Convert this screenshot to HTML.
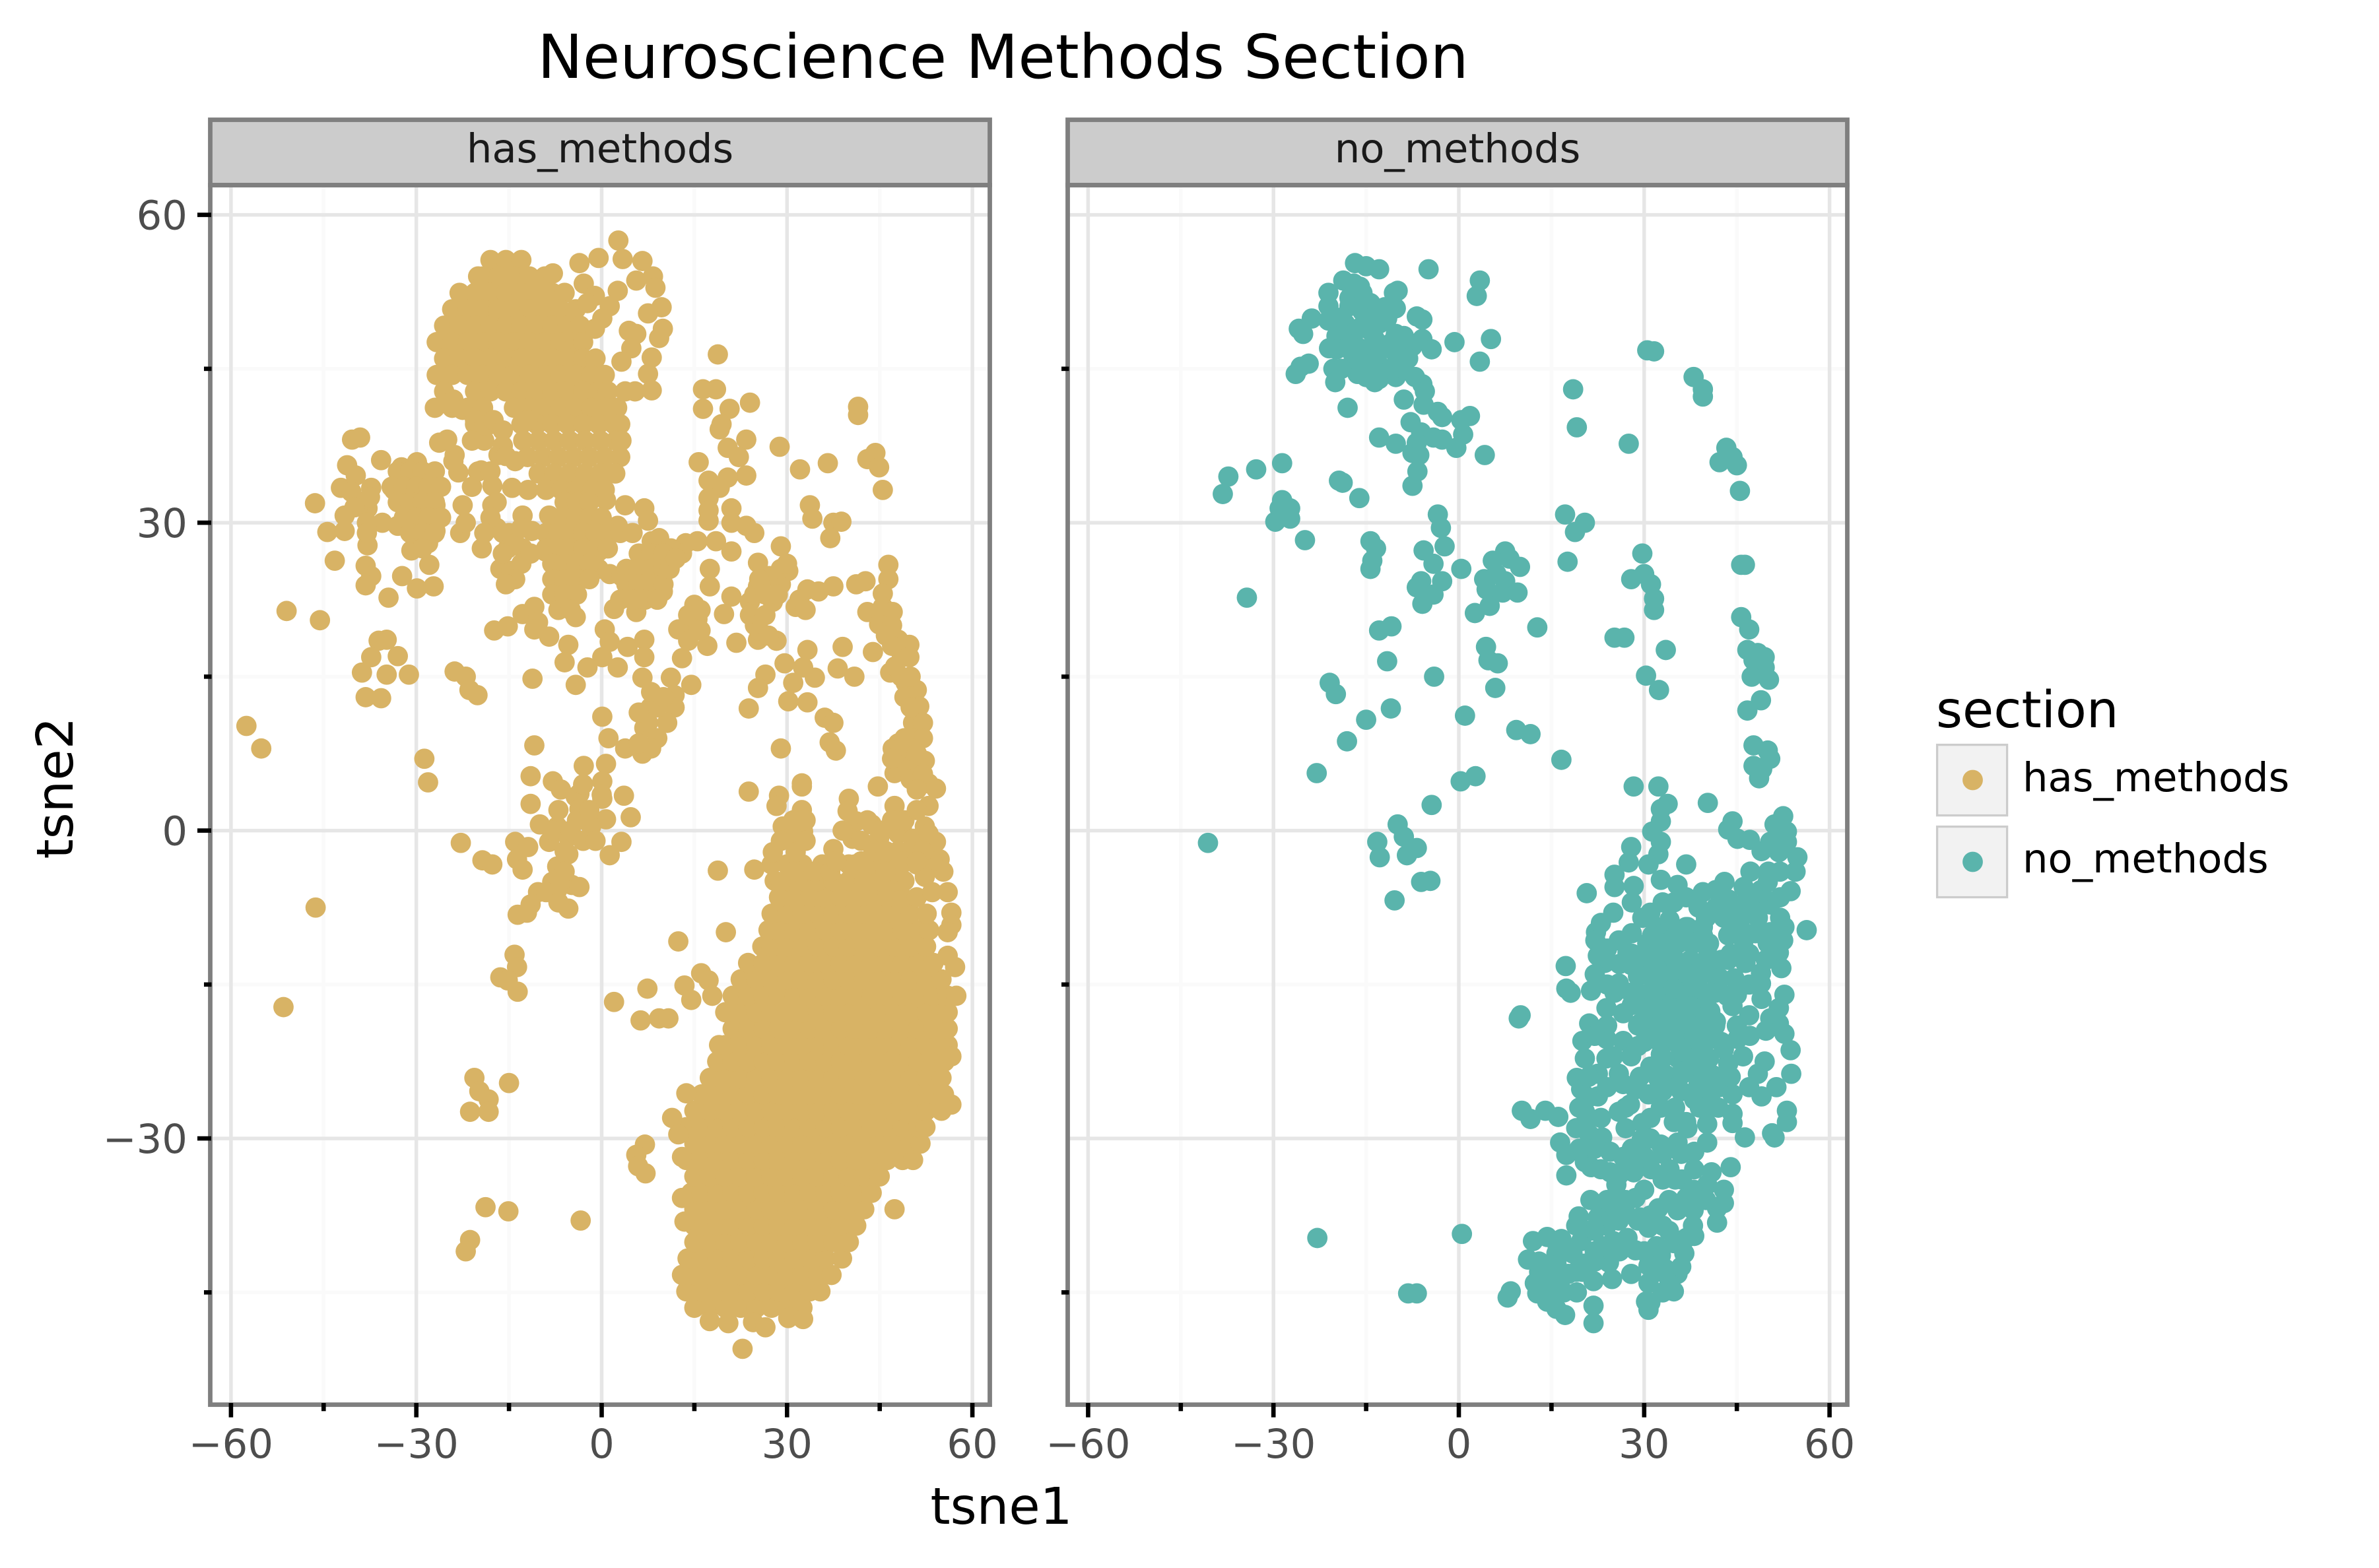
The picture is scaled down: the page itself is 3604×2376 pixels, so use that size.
<!DOCTYPE html>
<html><head><meta charset="utf-8"><title>Neuroscience Methods Section</title>
<style>html,body{margin:0;padding:0;background:#fff}svg{display:block}text{font-family:"DejaVu Sans","Liberation Sans",sans-serif}</style>
</head><body>
<svg id="chart" xmlns="http://www.w3.org/2000/svg" width="3604" height="2376" viewBox="0 0 3604 2376">
<rect width="3604" height="2376" fill="#fff"/>
<text x="1519.5" y="118" font-size="91.7" text-anchor="middle" fill="#000">Neuroscience Methods Section</text>
<g id="layer-grid"></g>
<g id="layer-points"></g>
<g id="layer-frame">
<rect x="318.5" y="181.5" width="1181" height="99" fill="#ccc" stroke="#7f7f7f" stroke-width="6.8"/>
<rect x="1617.5" y="181.5" width="1181" height="99" fill="#ccc" stroke="#7f7f7f" stroke-width="6.8"/>
<rect x="318.5" y="280.5" width="1181" height="1848" fill="none" stroke="#7f7f7f" stroke-width="6.8"/>
<rect x="1617.5" y="280.5" width="1181" height="1848" fill="none" stroke="#7f7f7f" stroke-width="6.8"/>
<text x="909" y="246" font-size="60.8" text-anchor="middle" fill="#1a1a1a">has_methods</text>
<text x="2208" y="246" font-size="60.8" text-anchor="middle" fill="#1a1a1a">no_methods</text>
</g>
<g id="layer-axes"></g>
<text x="1517" y="2309" font-size="76.8" text-anchor="middle" fill="#000">tsne1</text>
<text transform="translate(110,1194) rotate(-90)" font-size="76.8" text-anchor="middle" fill="#000">tsne2</text>
<g>
<text x="2933" y="1102" font-size="76.8" fill="#000">section</text>
<rect x="2934.6" y="1128.6" width="106" height="107" fill="#f2f2f2" stroke="#ccc" stroke-width="3.3"/>
<circle cx="2988.5" cy="1182" r="15.4" fill="#d8b365"/>
<text x="3064" y="1199" font-size="60.8" fill="#000">has_methods</text>
<rect x="2934.6" y="1252.6" width="106" height="107" fill="#f2f2f2" stroke="#ccc" stroke-width="3.3"/>
<circle cx="2988.5" cy="1306" r="15.4" fill="#5ab4ac"/>
<text x="3064" y="1322" font-size="60.8" fill="#000">no_methods</text>
</g>
</svg>
<script>
const majorTicks = [-60, -30, 0, 30, 60];
const minorTicksX = [-45, -15, 15, 45];
const majorTicksY = [-30, 0, 30, 60];
const minorTicksY = [-45, -15, 15, 45];
const tickLabelsX = ["\u221260", "\u221230", "0", "30", "60"];
const tickLabelsY = ["\u221230", "0", "30", "60"];

// Dense clouds: each row is [tsne2, tsne1, tsne1, ...]
const hasMethodsLowerCloud = [
[-46.5,15,17.5,20,22.5,25,27.5,30,32.5],
[-44.9,13.7,16.2,18.7,21.2,23.7,26.2,28.7,31.2,33.7,35.4],
[-43.3,13,15,17.5,20,22.5,25,27.5,30,32.5,35,37.2],
[-41.7,13.9,16.2,18.7,21.2,23.7,26.2,28.7,31.2,33.7,36.2,38.9],
[-40.1,15,17.5,20,22.5,25,27.5,30,32.5,35,37.5,40],
[-38.5,15,16.2,18.7,21.2,23.7,26.2,28.7,31.2,33.7,36.2,38.7,41.2],
[-36.9,15,17.5,20,22.5,25,27.5,30,32.5,35,37.5,40,42.5],
[-35.3,14.5,16.2,18.7,21.2,23.7,26.2,28.7,31.2,33.7,36.2,38.7,41.2,43.7],
[-33.7,15,17.5,20,22.5,25,27.5,30,32.5,35,37.5,40,42.5,45],
[-32.1,13.7,16.2,18.7,21.2,23.7,26.2,28.7,31.2,33.7,36.2,38.7,41.2,43.7,46.2,48.7,50.4],
[-30.5,15,17.5,20,22.5,25,27.5,30,32.5,35,37.5,40,42.5,45,47.5,50,51.6],
[-28.9,13.7,16.2,18.7,21.2,23.7,26.2,28.7,31.2,33.7,36.2,38.7,41.2,43.7,46.2,48.7,51.2,52.4],
[-27.3,15,17.5,20,22.5,25,27.5,30,32.5,35,37.5,40,42.5,45,47.5,50,52.5,55],
[-25.7,16.2,18.7,21.2,23.7,26.2,28.7,31.2,33.7,36.2,38.7,41.2,43.7,46.2,48.7,51.2,53.7,55.4],
[-24.1,17.5,20,22.5,25,27.5,30,32.5,35,37.5,40,42.5,45,47.5,50,52.5,55],
[-22.5,18.7,21.2,23.7,26.2,28.7,31.2,33.7,36.2,38.7,41.2,43.7,46.2,48.7,51.2,53.7,55.5],
[-20.9,19,20,22.5,25,27.5,30,32.5,35,37.5,40,42.5,45,47.5,50,52.5,55,56],
[-19.3,21.2,23.7,26.2,28.7,31.2,33.7,36.2,38.7,41.2,43.7,46.2,48.7,51.2,53.7,56],
[-17.7,20,22.5,25,27.5,30,32.5,35,37.5,40,42.5,45,47.5,50,52.5,55,56],
[-16.1,21.2,23.7,26.2,28.7,31.2,33.7,36.2,38.7,41.2,43.7,46.2,48.7,51.2,53.7,56],
[-14.5,22.5,25,27.5,30,32.5,35,37.5,40,42.5,45,47.5,50,52.5,55],
[-12.9,23.7,26.2,28.7,31.2,33.7,36.2,38.7,41.2,43.7,46.2,48.7,51.2,53.7],
[-11.3,26,27.5,30,32.5,35,37.5,40,42.5,45,47.5,50,52.5],
[-9.7,27,28.7,31.2,33.7,36.2,38.7,41.2,43.7,46.2,48.7,51.2,53],
[-8.1,27.5,30,32.5,35,37.5,40,42.5,45,47.5,50,52.6],
[-6.5,28.7,31.2,33.7,36.2,38.7,41.2,43.7,46.2,48.7,51],
[-4.9,28,30,32.5,35,37.5,40,42.5,45,47.5,49],
[-3.3,27.5,30,32.5,41,43.5,46,48.5,51]
];
const hasMethodsUpperCloud = [
[55.6,-18,-15.5,-13],
[54,-20,-19.2,-16.7,-14.2,-11.7,-9.2],
[52.4,-23,-20.5,-18,-15.5,-13,-10.5,-8,-6],
[50.8,-24.2,-21.7,-19.2,-16.7,-14.2,-11.7,-9.2,-6.7,-4.2],
[49.2,-25.5,-23,-20.5,-18,-15.5,-13,-10.5,-8,-5.5,-3.5],
[47.6,-26.7,-24.2,-21.7,-19.2,-16.7,-14.2,-11.7,-9.2,-6.7,-4.2,-3],
[46,-25.5,-23,-20.5,-18,-15.5,-13,-10.5,-8,-5.5,-3,-1],
[44.4,-26.7,-24.2,-21.7,-19.2,-16.7,-14.2,-11.7,-9.2,-6.7,-4.2,-1.7,.5],
[42.8,-25.5,-20.5,-18,-15.5,-13,-10.5,-8,-5.5,-3,-.5,1],
[41.2,-27,-24.2,-21.7,-19.2,-14.2,-11.7,-9.2,-6.7,-4.2,-1.7,.8,2.5],
[39.6,-20.5,-18,-13,-10.5,-8,-5.5,-3,-.5,2,3],
[38,-21,-19,-12.7,-10.2,-7.7,-5.2,-2.7,-.2,2.3,3.2],
[36.4,-12,-9.5,-7,-4.5,-2,.5,3],
[34.8,-10.2,-7.7,-5.2,-2.7,-.2,2.2],
[33.2,-9,-6.5,-4,-1.5,.5]
];
const noMethodsCore = [
[-9.4,32,34.5,37,39.5],
[-11,30.5,33,35.5,38,40.5],
[-12.6,30,32.5,35,37.5,40,42.5],
[-14.2,29,31.5,34,36.5,39,41.5],
[-15.8,29,31.5,34,36.5,39,41.5],
[-17.4,30,32.5,35,37.5,40],
[-19,29,31.5,34,36.5,39,41.5],
[-20.6,30,32.5,35,37.5,40,42.5],
[-22.2,33,35.5,38,40.5],
[-23.8,33.5,36,38.5,41],
[-25.4,33,36,38.5,41]
];
// Individually read points: [tsne1, tsne2]
const hasMethodsScatter = [
[2.7,57.5],[-.5,55.8],[-3.6,55.3],[3.4,55.7],[6.6,55.5],[-7.9,54.3],[8.3,54],[8.7,52.9],[5.6,53.6],[2.6,52.6],[-2.9,53.3],[-1.1,52.1],[-2.3,51.4],[1.3,51.1],[.1,49.9],[-1.1,48.9],[9.7,51],[7.5,50.4],[9.9,48.9],[9.3,48],[4.4,48.7],[5.6,48.4],[4.8,47],[3.2,45.7],[8.1,46.1],[7.5,44.5],[8.1,42.9],[3.8,42.8],[5.4,42.8],
[18.8,46.4],[16.4,43],[18.5,43],[16.4,41.1],[20.7,41.1],[24,41.7],[19.4,39.6],[19.1,39.1],[23.4,38.1],[20.4,37.3],[22.2,36.4],[15.7,35.9],[28.8,37.4],[32.1,35.2],[36.6,35.8],[41.5,41.3],[41.5,40.5],[43,36.2],[44.3,36.8],[44.9,35.4],[45.5,33.2],
[23.4,34.6],[20.4,34.4],[17.3,34.1],[19.1,33.4],[17.3,32.4],[17.3,31.2],[21,31.4],[17.3,30.2],[21,30],[23.4,29.7],[24.7,29],[33.7,31.7],[34.1,30.4],[37.5,30],[38.8,30.1],[37,28.5],[29,27.7],[25.3,26.1],[21,27.2],[18.5,28.2],[15.5,28.2],[13.6,28],[13,27],[11.2,27.5],
[17.5,25.5],[17.5,23.8],[30.2,25.3],[27.1,24.8],[25.3,23.8],[29,24],[33.3,23.5],[35.1,23.3],[37.5,23.8],[41.2,24],[42.7,24.3],[46.4,25.9],[46.4,24.5],[45.5,23.1],[45.5,21.8],[47.1,21.3],[43,21.3],[44.9,20.1],[31.4,21.8],[27.7,22.3],[24,22.3],[24,21],[21,22.8],[19.8,21.1],[15.5,20.6],[13.6,19.6],[12.4,19.6],[17.1,18],[21.8,18.3],[25.3,18.6],[28.3,18.5],[33.3,17.6],[39,17.9],[43.9,17.4],[48,18.6],[49.8,18.1],[48.6,16.9],[49.8,16.9],[46.7,15.4],[49.2,14.4],[51,13.7],[51.4,12.1],[50.4,10.5],[52,10.5],[48,8.5],[47.1,8],[38.2,15.8],[40.9,15],[34.5,14.9],[29.6,16.3],[32.6,15.9],[26.5,15.2],[31,14.4],[25.3,13.9],[30.2,12.6],[33.3,12.5],[23.8,11.9],[36.1,11],[37.5,10.5],[36.9,8.6],[37.9,7.8],[29,8],[48.6,7],[49.8,6],[52.3,6.8],[47.4,5.6],[52.9,4.6],[44.7,4.3],[32.4,4.3],[23.8,3.8],[28.7,3.4],
[-4.2,32.2],[-5.4,31.2],[-8.5,30.7],[-12.8,30.7],[.7,32.2],[3.8,31.7],[6.9,31.4],[7.5,30.2],[2.6,29.7],[.1,29.5],[-6.6,29.7],[-4.2,29.7],[-7.2,28.2],[-2.9,28.2],[.7,28],[-.5,27.2],[-9.1,27.2],[-5.4,26.7],[-2.9,26.3],[-.5,25.5],[1.3,25],[4.4,25.3],[6.9,26.3],[9.3,28.5],[8.1,28.2],[9.9,26.7],[7.5,25],[9.9,25],[5,24],[7.5,23.8],[9.9,23.3],[3.2,24.8],[-5.4,25.3],[-3.6,24.8],[-7.2,23.8],[-4.8,23.6],[-6.6,22.3],[-4.2,20.8],[2,21.6],[5.6,21.3],[5.6,22.6],
[-40.4,38.1],[-39.1,38.3],[-35.7,36.1],[-41.2,35.6],[-39.8,34.6],[-42.2,33.4],[-37.3,33.4],[-46.4,31.9],[-41.6,30.7],[-37.9,31.4],[-44.4,29.1],[-41.6,29.2],[-37.9,27.8],[-35.5,30],[-33,29.7],[-31.2,31.7],[-33.6,33.2],[-32.4,35.4],[-29.9,35.9],[-28.1,33.6],[-29.9,32.7],[-26.9,31.7],[-28.1,30.2],[-30.6,29.5],[-26.9,29.2],[-28.1,28],[-30.8,27.3],[-22.9,29],[-22.5,31.7],[-26.3,37.8],[-25,38.1],[-23.8,36.6],[-23.2,34.9],[-19.5,35.1],[-17.7,33.6],[-17.7,31.7],[-16.7,36.6],[-14.5,33.4],[-11.9,33.2],[-19.4,27.5],[-17,29.5],[-15.2,27.5],[-12.8,27.5],[-16.4,25.5],[-14.6,25.3],[-11.3,29.2],[-43.2,26.3],[-38.2,25.8],[-37.3,24.8],[-38.2,23.9],[-34.5,22.7],[-32.3,24.8],[-29.9,23.6],[-27.2,23.8],[-27.9,25.9],[-51,21.4],[-45.6,20.5],[-17.4,19.5],[-15.2,19.9],[-12.8,21.1],[-10.9,21.8],[-10.3,20.3],[-10.9,19.6],[-8.5,18.9],[-5.4,18.1],[-6,16.4],[-4.2,14.2],[.5,19.6],[1.3,18.4],[4.2,17.9],[6.9,18.6],[.1,16.9],[2.6,15.9],[6.9,16.9],[6.6,14.9],[11.2,14.9],[13,16.8],[14.5,14.2],[11.8,13.2],[-11.2,14.8],[-2.3,15.9],[-36.1,18.5],[-34.8,18.6],[-37.3,16.9],[-33,17],[-38.8,15.4],[-34.8,15.2],[-31.2,15.2],[-38.2,13],[-35.7,12.9],[-23.8,15.5],[-22,15],[-21.4,13.7],[-20.1,13.2],[-57.5,10.2],[-55.1,8],[-28.7,7],[-28.1,4.7],
[.1,11.1],[7.9,12],[11.8,12],[6.9,10],[10.6,10.5],[1.1,9],[3.8,8],[6.6,7.5],[.7,6.5],[-10.9,8.3],[-2.9,6.3],[-11.5,5.3],[-7.9,4.8],[.1,4.8],[-6.6,4],[-3.6,3.6],
[-4.2,3.3],[.1,3.1],[3.6,3.4],[-11.5,2.6],[-3.6,2.1],[.7,1.1],[-10,.6],[4.7,1.3],[-7.2,.4],[-1.7,.4],[-8.5,-1.1],[-5.4,-.6],[-22.8,-1.2],[-14,-1.1],[-11.9,-1.6],[3.2,-1.1],[1.3,-2.4],[-19.3,-2.9],[-17.7,-3.3],[-13.7,-2.8],[-12.8,-3.8],[-5.4,-2.3],[-7.2,-3.5],[-6.6,-4.5],[-4.8,-5.3],[-3.6,-5.5],[-10.3,-6],[-7.2,-5.8],[-11.5,-7.2],[-5.4,-7.6],[-13.6,-8.2],[-12.1,-8],[-46.3,-7.5],[-14.1,-12.1],[-13.7,-13.3],[-16.4,-14.3],[-15.2,-14.6],[-13.6,-15.7],[-51.5,-17.2],[2,-16.7],[7.4,-15.4],[6.3,-18.5],[9.3,-18.3],[10.8,-18.3],[13.4,-15.1],[14.5,-16.5],[16.1,-13.9],[17.3,-14.6],[17.9,-16.1],[12.4,-10.8],[20.1,-9.9],[18.8,-3.9],[13.7,-25.6],[11.4,-28],[12.4,-29.6],[13,-31.8],[7,-30.6],[5.6,-31.6],[5.9,-32.7],[7.1,-33.4],[13,-35.8],[13.4,-38.1],[-3.4,-38],[47.4,-36.9],[-20.6,-24.1],[-19.8,-25.4],[-18.3,-26.2],[-18.3,-27.4],[-21.3,-27.4],[-15,-24.6],[-18.8,-36.7],[-15.1,-37.1],[-21.3,-39.9],[-22,-41],[22.8,-50.5],[17.5,-47.8],[20.5,-48],[24.5,-47.9],[26.5,-48.4],[30.2,-47.5],[32.6,-47.6],
[28.3,2.4],[32.4,4.6],[32.4,2],[40,3.1],[39.8,1.9],[47.4,2.4],[41.2,.9],[43.7,.6],[48.6,.4],[54.1,4.1],[52.9,2.4],[52.3,.4],[29.3,.4],[32.6,-.1],[30.2,-.8],[27.7,-2.1],[31.4,-2.1],[37.5,-1.8],[40.6,-.8],[44.9,-.8],[48,-.3],[50.4,-.8],[52.9,-.3],[54.1,-1.1],[54.7,-2.8],[55.3,-4],[56,-6],[56.6,-8],[56.6,-9.2],[56,-9.9],[56,-12.2],[57.2,-13.3],[57.4,-16.1],[56.6,-22],[56.6,-26.7],[24.7,-3.8],[35.7,-3.3],[40,-3.3],[44.9,-3],[47.4,-4],[53.5,-3],[34.5,-4],[42.5,-5],[52.3,-4.5],[53.5,-6]
];
// Extra points filling the thicker clusters of has_methods
const hasMethodsClusterFill = [
[-6,32],[-4,32],[-2,32],[-8,30.5],[-6,30.5],[-4,30.5],[-2,30.5],[0,30.5],[-9,29],[-7,29],[-5,29],[-3,29],[-1,29],[1,29],[3,29],[5,29],[-9,27.5],[-7,27.5],[-5,27.5],[-3,27.5],[-1,27.5],[1,27.5],[-8,26],[-6,26],[-4,26],[-2,26],[-8,24.5],[-6,24.5],[-4,24.5],[-2,24.5],[-8,23],[-6,23],[-4,23],[-7,21.5],[-5,21.5],
[6,27],[8,27],[10,27],[4,25.5],[6,25.5],[8,25.5],[10,25.5],[4,24],[6,24],[8,24],[10,24],[3,22.5],[5,22.5],[7,22.5],[9,22.5],[11,25.5],[12,26.5],
[-33,35],[-31,35],[-29,35],[-27,35],[-34,33.5],[-32,33.5],[-30,33.5],[-28,33.5],[-26,33.5],[-33,32],[-31,32],[-29,32],[-27,32],[-32,30.5],[-30,30.5],[-28,30.5],[-26,30.5],[-31,29],[-29,29],[-27,29],[-29,27.5],
[-40.5,33],[-39,32],[-38,30],[-38,29],[-37.5,32.5],[-40,31.5],[-22,30],[-20,35],[-21,33.5],[-18,35],[-17,32],[-18,30.5],[-16,29],[-15,29],[-14,28],[-13,26],[-14,24.5],[-15.5,24],[-16,27],[-19,29],[-13,29.5],[-11.5,27],
[-24,42],[-24.5,41.7],[-22.5,41],[-20.5,40],[-19,39.5],[-17.5,40],[-16,39],[-16,37.5],[-15.5,36.5],[-14,36],[-12,40],[-24,36],
[47,20],[46,19],[47,18],[47.5,16],[48.5,15],[50,15],[49,13],[50,12],[50.5,9],[52,9],[49,9],[50,8],[51,7.5],[48,6],[50,5],[52,5.5],[47,7],
[24.7,23],[25.5,24.5],[26.5,23],[24.8,20],[25.5,19.5],[27,19],[26.5,21],[32,22.5],[33,21.5],[28.5,23],[29,25.5],[30,26],
[29,-1],[31,-4],[33,-1],[29,-5],[33,1],[31,1],[42,-1],[44,-2],[46,-2],[48,-2],[50,-2],[52,-2],[43,1],[45,0],[47,1],[49,1],[51,2],[51,4],[39,0],[37,-4],[38,-3],[42,-3],[49,-3],[51,-3],[46,-4],
[14,21],[15,22],[16,21.5],[14,18.5],[16,19.5],[7.5,10.5],[9,9],[9,12],[10,13],[8,13.5],[6,11.5],[8,8],[6,8.5],
[-8,0],[-7,2],[-6,-2],[-5,0],[-4,1],[-6,-4],[-8,-5],[-9,-6],[-7,-7],[-3,-1],[-2,2],[-1,-1],[0,3.5],[-3,4.5]
];
const noMethodsScatter = [
[-16.8,55.3],[-15,55],[-12.9,54.7],[-4.9,54.7],[3.4,53.6],[2.9,52.1],[-18.7,53.6],[-17,53.3],[-21.1,52.4],[-17.7,51.9],[-15.6,52.4],[-10.5,52.4],[-9.9,52.6],[-21.1,51.1],[-17.7,51.1],[-14.3,51.4],[-10.2,50.9],[-15.6,50.6],[-6.8,50.1],[-5.9,49.8],[-23.8,49.9],[-25.9,48.9],[-25.2,48.4],[-21.1,49.7],[-18.4,49.4],[-12.9,49.4],[-11.6,49.9],[-10.2,48.4],[-14.3,48.7],[-17,48.4],[-19.8,48.2],[-19.8,46.9],[-17.7,47.4],[-13.6,47.9],[-8.9,48.2],[-.7,47.6],[5.2,47.9],[-5.9,47.9],[-4.4,46.9],[-7.5,47.2],[-12.9,46.7],[-17,46],[-10.2,46.5],[-8.2,46],[3.4,45.7],[-13.2,45.7],[-24.3,45.5],[-25.6,45.2],[-26.4,44.5],[-20.3,45],[-20,43.7],[-16.4,44.5],[-15,44.2],[-13.6,43.7],[-10.2,44.2],[-12.9,44],[-7.1,44.2],[-5.9,43.5],[-5.5,42.8],[-8.9,42],[-18,41.2],[-5.7,41.5],[-3.4,40.8],[-2.7,40.3],[1.8,40.4],[.4,40],[-7.8,39.8],[-12.9,38.3],[-6.1,38.8],[-4.1,38.3],[-2.7,38.1],[.7,38.6],[-.4,37.3],[-10.2,37.7],[-6.8,37.8],[-7.5,36.8],[-6.4,36.6],[4.2,36.6],[-6.7,35],[-7.5,33.6],[-28.6,35.8],[-32.8,35.2],[-37.3,34.5],[-38.2,32.8],[-19.4,34.1],[-18.8,33.9],[-16.1,32.4],[-28.6,32.2],[-27.3,31.4],[-29,31.4],[-27.3,30.4],[-29.7,30.1],[-24.9,28.3],[-3.4,30.8],[-2.9,29.5],[-14.3,28.2],[-13.4,27.5],[-14,26.3],[-14.3,25.5],[-34.3,22.7],[-5.7,27.3],[-2.3,27.7],[17.2,30.8],[20.4,30],[18.8,29.1],[17.6,26.2],[-4.1,26],[-2.7,24.3],[-6.1,24.3],[-6.8,23.7],[-4.1,23],[-5.9,22.1],[.4,25.5],[7.5,27.2],[8.2,26.5],[5.5,26.3],[9.9,25.7],[4.1,24.5],[6.1,25],[7.5,24.3],[4.5,23.5],[7.1,23.2],[9.5,23.2],[5,21.9],[2.6,21.2],[12.7,19.8],[-10.9,19.9],[-12.9,19.5],[4.4,17.9],[4.8,16.6],[6.3,16.3],[-11.6,16.5],[-4,15],[5.9,13.9],[-20.9,14.4],[-19.9,13.3],[-11,11.9],[-15,10.8],[1,11.2],[9.3,9.8],[11.6,9.4],[16.6,6.9],[-18.1,8.7],[-23,5.6],[2.7,5.3],[.3,4.8],
[30.5,46.8],[31.6,46.7],[38,44.2],[39.5,43],[39.5,42.3],[18.5,43],[19.1,39.3],[27.5,37.7],[43.3,37.3],[42.2,35.9],[44.3,36.4],[45,35.6],[45.5,33.1],[29.7,27],[27.9,24.5],[30,25],[31.1,24],[31.6,22.6],[31.6,21.5],[45.7,25.9],[46.3,25.9],[25.2,18.8],[26.8,18.8],[33.5,17.6],[30.3,15.1],[32.4,13.7],[45.7,20.8],[47,19.6],[46.7,17.6],[48.4,17.3],[49.5,16.9],[47.7,16.6],[49.5,15.9],[47.4,15],[50.2,14.7],[48.9,12.7],[46.7,11.7],[47.7,8.3],[50,7.8],[50.4,7],[47.7,6.3],[49.1,6],[48.6,5.1],[28.3,4.3],[32.3,4.3],
[-4.4,2.5],[-9.9,.6],[-8.9,-.6],[-13.2,-1.1],[-12.8,-2.6],[-8.4,-2.4],[-6.8,-1.7],[-6.1,-5],[-4.6,-4.9],[-10.4,-6.8],[-40.6,-1.2],[40.3,2.7],[33.8,2.6],[32.7,2.1],[32.7,.9],[31.3,-.1],[32.7,-1.1],[27.9,-1.6],[32.3,-2.3],[27.5,-3.1],[30.7,-3.3],[36.8,-3.3],[25.2,-4.3],[25.2,-5.5],[28.3,-5.4],[32.7,-4.8],[35.4,-5.3],[20.7,-6.1],[44.3,.9],[43.6,.1],[45.1,-.8],[47.1,-.9],[52.5,1.4],[51.1,.6],[53.1,-.1],[53.1,-1.1],[50.4,-1.1],[51.8,-2.1],[54.8,-2.6],[54.5,-4],[50.1,-4],[47.2,-4],[53.7,-5.9],[48.9,-5.8],[46.1,-5.5],[34.8,-7],[36.8,-6.5],[39.5,-6],[41.6,-5.8],[43.6,-6.7],[45.7,-7.2],[48.4,-7.2],[50.4,-7.2],[38.8,-7.5],[41.6,-7.5],[42.9,-8.5],[45.7,-8.5],[48.4,-8.5],[52,-8.5],[52.7,-9.4],[56.3,-9.7],[50.4,-9.9],[52.5,-10.7],[46.1,-9.9],[43.6,-10.2],[46.1,-10.7],[29.7,-8.5],[34.1,-8.7],[36.8,-9.4],[39.5,-10.2],[31.3,-10.2],[34.8,-10.4],[37.5,-10.9],[40.2,-11.4],[22.2,-9.9],[22.1,-10.7],[25.9,-10.7],[22.5,-12.2],[23.6,-12.9],[27.3,-11.9],[17.3,-13.2],[17.4,-15.4],[18.1,-15.8],[21.4,-15.6],[27.9,-13.1],[32,-11.9],[34.8,-12.4],[37.5,-12.6],[40.2,-13.1],[43.6,-12.6],[46.4,-12.9],[49.7,-12.6],[51.8,-11.9],[52.2,-13.4],[48.9,-13.9],[44.6,-14.4],[48.9,-14.9],[42.3,-14.4],[30.7,-14.1],[33.4,-14.4],[36.8,-13.9],[38.8,-14.1],[25.9,-14.9],[27.9,-15.8],[25.2,-15.8],[31.3,-15.6],[34.8,-15.4],[38.1,-15.4],[40.7,-15.8],[43.4,-16.1],[44.3,-17.1],[49,-16.4],[52.7,-16],[51.8,-17.3],[50.4,-18.3],[23.9,-17.3],[26.6,-17.8],[30.7,-17.3],[34.1,-17.3],[37.5,-17.1],[40.7,-17.6],[21.1,-18.8],[10,-18],[9.7,-18.3],[29.3,-18.8],[33.4,-18.8],[36.8,-18.6],[40.2,-18.8],[41.6,-18.6],[51.8,-18.8],[52.7,-19.8],[49.7,-19.5],[47.1,-20],[45.1,-20.3],[20,-20.5],[23.9,-20.3],[26.6,-20.5],[30.7,-20.3],[34.8,-20.3],[38.1,-20],[41.6,-20.3],[53.7,-21.4],[32.7,-21.8],[36.1,-21.5],[39.5,-21.5],[42.9,-21.3],[20.4,-22.2],[23.9,-22.2],[27.9,-22],[49.5,-22.5],[48.4,-23.7],[53.8,-23.7],[43.6,-22.7],[38.8,-23],[36.1,-23.5],[32.3,-24.2],[19.1,-24.1],[22.5,-23.7],[25.9,-23.7],[29.3,-24],[19.8,-25.2],[22.5,-25.9],[26.6,-24.7],[28.6,-25.2],[35.4,-25],[38.8,-24.7],[42.2,-25],[44.3,-25.7],[47,-25],[49,-25.9],[51.4,-25],[30.7,-25.7],[38.1,-26.2],[40.2,-26.9],[10.2,-27.3],[11.6,-28.1],[14,-27.3],[16.1,-27.9],[20.4,-27.4],[20.4,-28.6],[25.9,-27.4],[27.7,-26.7],[32.7,-27],[34.8,-28.4],[36.8,-28.4],[40.2,-28.6],[29.7,-28.5],[44.3,-27.6],[44.3,-28.5],[53.1,-27.3],[53.1,-28.4],[50.7,-29.5],[51.1,-29.9],[46.3,-29.9],[21.1,-29.6],[23.2,-29.9],[16.4,-30.4],[17.4,-31.6],[35.4,-30.4],[40.2,-30.4],[29.6,-30.1],[32.7,-30.6],[38.1,-31.3],[21.1,-31.1],[24.5,-31.3],[26.6,-31.8],[30.1,-31.8],[20.4,-32.3],[21.4,-32.8],[17.4,-33.6],[24.5,-33.3],[28.3,-33.3],[31.1,-33],[34.1,-33],[38.1,-33],[40.9,-33.3],[44,-32.8],[36.1,-34],[40.2,-34.5],[42.9,-35],[25.5,-34.5],[30,-35],[21.3,-36],[25.2,-35.8],[28.6,-35.8],[36.8,-35.8],[42.9,-36.3],[41.8,-36.8],[23.9,-37],[26.8,-36.8],[32.3,-36.8],[35.4,-37],[19.4,-37.6],[22.5,-37.7],[25.9,-38],[29.3,-37.7],[41.8,-38.2],[37.9,-38.5],[23.9,-38.5],[38.1,-39.5],[21.1,-39],[27.3,-39.7],[30.7,-38.7],[36.8,-39.7],[12,-40],[14.3,-39.6],[16.6,-39.8],[19.8,-40],[23.2,-40.5],[28.6,-40.9],[32,-40.5],[34.8,-40.2],[36.5,-41.2],[11.2,-41.8],[15.8,-41.2],[18.4,-41.2],[20.4,-42.2],[24.3,-42.1],[32.7,-41.4],[15.8,-42.2],[14.3,-43.2],[17.7,-43.2],[27.9,-43.2],[30.7,-42.4],[35.4,-43.2],[33.4,-42.7],[21.8,-43.9],[24.8,-43.7],[12.3,-44.1],[15,-44.1],[8.4,-44.9],[7.9,-45.5],[-8.2,-45.1],[-6.8,-45.1],[19.1,-45],[30.7,-44.1],[34.1,-44.1],[34.8,-44.9],[12.7,-45.1],[15.8,-44.9],[14.3,-45.9],[21.8,-46.3],[30.3,-45.9],[15.8,-46.6],[17.2,-47.2],[30.7,-46.7],[21.8,-48],[-22.9,-39.7],[.5,-39.3]
];
// Extra points filling the thicker clusters of no_methods
const noMethodsClusterFill = [
[22,-14],[24,-15],[28,-12],[28,-10],[24,-19],[28,-17],[22,-20],[25,-22],[29,-21],[21,-24],[24,-25],[27,-27],[31,-23],[21,-26],[23,-28],[27,-29],[31,-28],[19.5,-27],[19,-29],[19.5,-31],[22,-31],[23,-33],[26,-33.5],[29,-32],[33,-31.5],[36,-31.5],[37,-29],[39,-27],[42,-27],[42,-24],[35,-27],[31,-30],[28,-31],[33,-34],[35,-34],[38,-35],[27,-36],[29,-38],[31,-37.5],[33,-38.5],[34,-36],[38,-37],[40,-36],[24,-36],[22,-39],[25,-40],[19,-38.5],[18,-41],[22,-42],[20,-43],[16,-40.5],[13,-42],[17,-45],[13,-43],[19,-43],[16,-44],[22,-41],[30,-41],[34,-39],[32,-43],[36,-42.5],[33,-45],[31,-46],[26,-41],
[43,-5],[44,-9],[48,-10],[50,-11],[47,-12],[44,-12],[43,-8],[40,-8.5],[47,-7],[49,-6],[52,-6.5],[50,-5],[52,-4],[49,-2],[51,-1],[45,-19],[47,-18],[46,-22],[44,-24],[45,-16],[47,-15],[31,-8],[33,-7],[28,-7],[25,-8],[26,-13],[24,-11.5],[23,-9],
[-16,53],[-19,50],[-16,49],[-14,50],[-12,51],[-18,47],[-15,46],[-12,45],[-16,47],[-14,45.5],[-11,47.5],[-21,47],[-19,45],[-9,45],[-11,45]
];

const SVG_NS = 'http://www.w3.org/2000/svg';
function panelX(origin, v) { return origin + 9.36 * v; }
function axisY(v) { return 1258.6 - 15.55 * v; }
const PANEL_ORIGINS = [911.5, 2210];
const PANEL_LEFT = [318.5, 1617.5];
const PANEL_RIGHT = [1499.5, 2798.5];
function mk(tag, attrs, parent) {
  const el = document.createElementNS(SVG_NS, tag);
  for (const k in attrs) el.setAttribute(k, attrs[k]);
  parent.appendChild(el);
  return el;
}
const gridLayer = document.getElementById('layer-grid');
const pointLayer = document.getElementById('layer-points');
const axesLayer = document.getElementById('layer-axes');

[0, 1].forEach(function (p) {
  const o = PANEL_ORIGINS[p], L = PANEL_LEFT[p], R = PANEL_RIGHT[p];
  minorTicksX.forEach(function (v) {
    const x = panelX(o, v);
    const line = mk('line', {x1: x, x2: x, y1: 284, y2: 2125, stroke: '#fafafa', 'stroke-width': 5.5}, gridLayer);
    
    
    const tick = mk('line', {x1: x, x2: x, y1: 2126, y2: 2138.3, stroke: '#000', 'stroke-width': 6.6}, axesLayer);
    
    
  });
  minorTicksY.forEach(function (v) {
    const y = axisY(v);
    const line = mk('line', {x1: L, x2: R, y1: y, y2: y, stroke: '#fafafa', 'stroke-width': 5.5}, gridLayer);
    
    
    const tick = mk('line', {x1: L - 9.5, x2: L + 2, y1: y, y2: y, stroke: '#000', 'stroke-width': 6.6}, axesLayer);
    
    
  });
  majorTicks.forEach(function (v, i) {
    const x = panelX(o, v);
    const line = mk('line', {x1: x, x2: x, y1: 284, y2: 2125, stroke: '#e6e6e6', 'stroke-width': 5.5}, gridLayer);
    
    
    const tick = mk('line', {x1: x, x2: x, y1: 2126, y2: 2147.7, stroke: '#000', 'stroke-width': 6.6}, axesLayer);
    
    
    const label = mk('text', {x: x, y: 2209, 'font-size': 60.8, 'text-anchor': 'middle', fill: '#4d4d4d'}, axesLayer);
    
    
    label.textContent = tickLabelsX[i];
  });
  majorTicksY.forEach(function (v, i) {
    const y = axisY(v);
    const line = mk('line', {x1: L, x2: R, y1: y, y2: y, stroke: '#e6e6e6', 'stroke-width': 5.5}, gridLayer);
    
    
    if (p === 0) {
      const tick = mk('line', {x1: 299, x2: 320, y1: y, y2: y, stroke: '#000', 'stroke-width': 6.6}, axesLayer);
      
      
      const label = mk('text', {x: 284, y: y + 22, 'font-size': 60.8, 'text-anchor': 'end', fill: '#4d4d4d'}, axesLayer);
      
      
      label.textContent = tickLabelsY[i];
    }
  });
});

function drawPoint(p, tx, ty, color, name) {
  const c = mk('circle', {cx: panelX(PANEL_ORIGINS[p], tx), cy: axisY(ty), r: 15.4, fill: color}, pointLayer);
  
  
}
function drawRows(rows, p, color, name) {
  rows.forEach(function (row) {
    for (let i = 1; i < row.length; i++) drawPoint(p, row[i], row[0], color, name);
  });
}
function drawPairs(pairs, p, color, name) {
  pairs.forEach(function (d) { drawPoint(p, d[0], d[1], color, name); });
}
drawRows(hasMethodsLowerCloud, 0, '#d8b365', 'has-methods-point');
drawRows(hasMethodsUpperCloud, 0, '#d8b365', 'has-methods-point');
drawPairs(hasMethodsScatter, 0, '#d8b365', 'has-methods-point');
drawPairs(hasMethodsClusterFill, 0, '#d8b365', 'has-methods-point');
drawRows(noMethodsCore, 1, '#5ab4ac', 'no-methods-point');
drawPairs(noMethodsScatter, 1, '#5ab4ac', 'no-methods-point');
drawPairs(noMethodsClusterFill, 1, '#5ab4ac', 'no-methods-point');
</script>
</body></html>
